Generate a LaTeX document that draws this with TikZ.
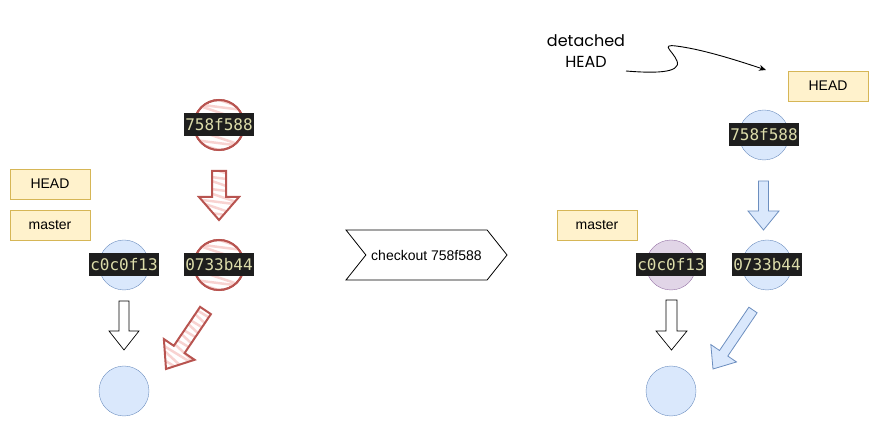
\documentclass[tikz,border=0pt]{standalone}
\usepackage{fontspec}
\setmainfont{Liberation Sans}
\newfontfamily\monof{DejaVu Sans Mono}
\newfontfamily\handf{Poppins}
\usetikzlibrary{calc,decorations.pathmorphing,arrows.meta,shapes.symbols}
\definecolor{yfill}{HTML}{FFF2CC}
\definecolor{ystroke}{HTML}{D6B656}
\definecolor{bfill}{HTML}{DAE8FC}
\definecolor{bstroke}{HTML}{6C8EBF}
\definecolor{pfill}{HTML}{E1D5E7}
\definecolor{pstroke}{HTML}{9673A6}
\definecolor{rstroke}{HTML}{B85450}
\definecolor{rzig}{HTML}{F8D3D1}
\definecolor{codebg}{HTML}{1E1E1E}
\definecolor{codefg}{HTML}{DCDCAA}
\newcommand{\mkarrow}[6]{% name s t shafthalf headhalf headlen
  \coordinate (#1-s) at (#2);
  \coordinate (#1-t) at (#3);
  \coordinate (#1-h) at ($(#1-t)!#6!(#1-s)$);
  \coordinate (#1-a) at ($(#1-s)!#4!90:(#1-t)$);
  \coordinate (#1-b) at ($(#1-h)!#4!90:(#1-t)$);
  \coordinate (#1-c) at ($(#1-h)!#5!90:(#1-t)$);
  \coordinate (#1-d) at ($(#1-h)!#5!-90:(#1-t)$);
  \coordinate (#1-e) at ($(#1-h)!#4!-90:(#1-t)$);
  \coordinate (#1-f) at ($(#1-s)!#4!-90:(#1-t)$);
}
\newcommand{\arrowpath}[1]{(#1-a) -- (#1-b) -- (#1-c) -- (#1-t) -- (#1-d) -- (#1-e) -- (#1-f) -- cycle}
\begin{document}
\begin{tikzpicture}[x=1pt,y=-1pt,
  ybox/.style={draw=ystroke, fill=yfill, minimum width=80pt, minimum height=30pt, inner sep=0pt, font=\fontsize{14}{16}\selectfont},
  circ/.style={circle, minimum size=50pt, inner sep=0pt},
  bcirc/.style={circ, draw=bstroke, fill=bfill},
  pcirc/.style={circ, draw=pstroke, fill=pfill},
  rcirc/.style={circ, draw=rstroke, line width=2pt},
  code/.style={fill=codebg, text=codefg, inner sep=1.5pt, minimum height=23pt, font=\monof\fontsize{16}{18}\selectfont},
  zz/.style={draw=rzig, line width=2.5pt, line join=round, decorate, decoration={zigzag, segment length=12pt, amplitude=30pt}},
  redarrow/.style={draw=rstroke, line width=2pt, line join=miter},
  bluearrow/.style={draw=bstroke, fill=bfill, line width=0.8pt},
  plainarrow/.style={draw=black, fill=white, line width=0.7pt},
]
\useasboundingbox (0,0) rectangle (879,427);

% ---------- left ----------
\node[ybox] (headL) at (50,184) {HEAD};
\node[ybox] (masterL) at (50,225) {master};

\node[bcirc] (cL) at (124,265) {};
\node[rcirc] (r758) at (219,125) {};
\node[rcirc] (r073) at (219,265) {};
\node[bcirc] (botL) at (124,391) {};

\foreach \n in {r758,r073}{
  \begin{scope}
    \clip (\n) circle (25pt);
    \draw[zz] ($(\n)+(8,-35)$) -- ($(\n)+(-8,35)$);
  \end{scope}
  \draw[rstroke, line width=2pt] (\n) circle (25pt);
}

\node[code] (t758L) at (r758) {758f588};
\node[code] (t073L) at (r073) {0733b44};
\node[code] (tcL) at (cL) {c0c0f13};

\mkarrow{ra1}{219,171}{219,220}{7pt}{20pt}{23pt}
\begin{scope}
  \clip \arrowpath{ra1};
  \draw[zz] ($(ra1-s)+(8,-10)$) -- ($(ra1-t)+(-8,10)$);
\end{scope}
\draw[redarrow] \arrowpath{ra1};

\mkarrow{ra2}{205.5,310.5}{166,369}{6.5pt}{18.5pt}{23.6pt}
\begin{scope}
  \clip \arrowpath{ra2};
  \draw[zz] ($(ra2-s)+(10,-10)$) -- ($(ra2-t)+(-10,10)$);
\end{scope}
\draw[redarrow] \arrowpath{ra2};

\mkarrow{ka1}{124,301}{124,350}{5pt}{15pt}{19pt}
\draw[plainarrow] \arrowpath{ka1};

% ---------- middle ----------
\node[signal, signal to=east, signal from=west, signal pointer angle=103, draw, line width=0.8pt,
  minimum width=161pt, minimum height=50pt, inner sep=0pt, font=\fontsize{14}{16}\selectfont]
  (chk) at (426.5,255) {checkout 758f588};

% ---------- right ----------
\node[align=center, font=\handf\fontsize{16}{21}\selectfont] (det) at (586,51) {detached\\HEAD};
\coordinate (cs) at (626,71);
\coordinate (ce) at (766,70);
\draw[line width=0.9pt, -{Stealth[length=7pt,width=6pt]}] (cs) .. controls (650,73) and (682,74) .. (677,61)
  .. controls (673,51) and (660,44) .. (676,46) .. controls (700,49) and (730,58) .. (ce);

\node[ybox] (headR) at (828,86) {HEAD};
\node[ybox] (masterR) at (597,225.5) {master};

\node[bcirc] (b758) at (764,135) {};
\node[pcirc] (cR) at (671,265) {};
\node[bcirc] (b073) at (767,265) {};
\node[bcirc] (botR) at (671,391) {};

\node[code] (t758R) at (b758) {758f588};
\node[code] (tcR) at (cR) {c0c0f13};
\node[code] (t073R) at (b073) {0733b44};

\mkarrow{ba1}{763.5,181}{763.5,230}{5pt}{15.5pt}{19pt}
\draw[bluearrow] \arrowpath{ba1};

\mkarrow{ba2}{753,310}{713,369}{5pt}{15.5pt}{19pt}
\draw[bluearrow] \arrowpath{ba2};

\mkarrow{ka2}{671.5,300}{671.5,350}{5.5pt}{15.5pt}{19pt}
\draw[plainarrow] \arrowpath{ka2};
\end{tikzpicture}
\end{document}
